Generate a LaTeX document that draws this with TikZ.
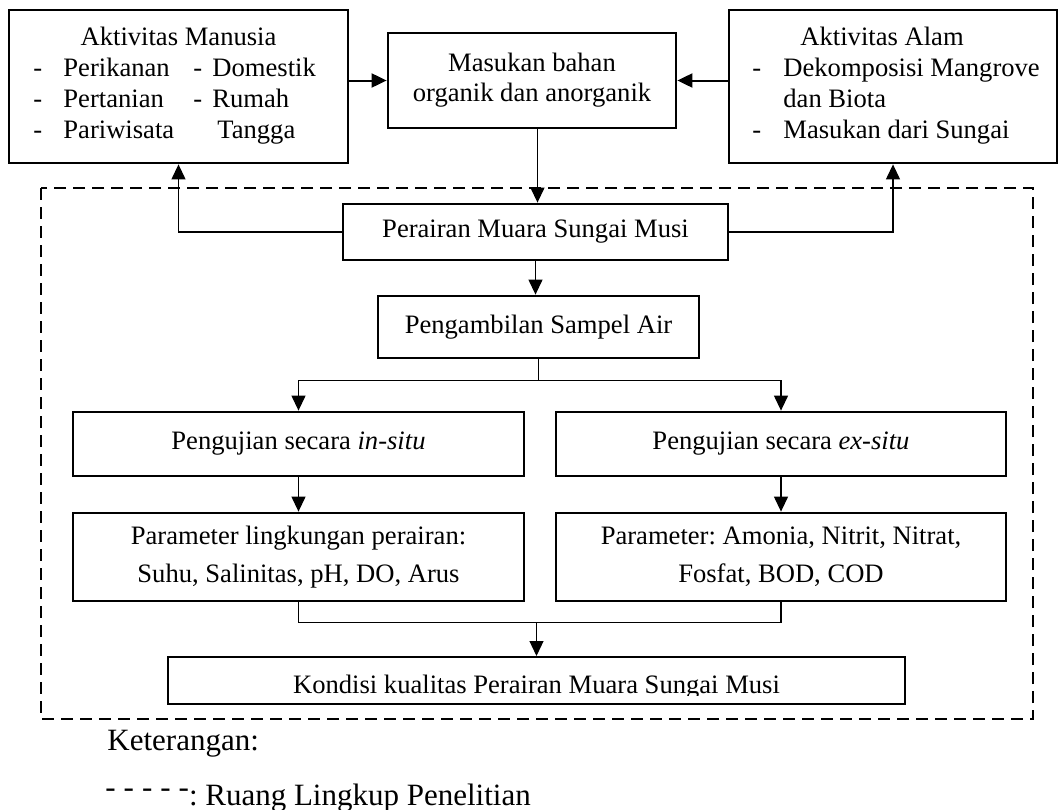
\documentclass[tikz,border=0pt]{standalone}
\usepackage{fontspec}
\setmainfont{Liberation Serif}
\usetikzlibrary{arrows.meta,calc}
\frenchspacing
\begin{document}
\begin{tikzpicture}[x=0.5pt,y=-0.5pt,
  box/.style={draw, line width=1.4pt, inner sep=0pt, align=center, font=\fontsize{13.3}{15}\selectfont},
  pbox/.style={box, font=\fontsize{13.3}{19}\selectfont},
  arr/.style={-{Triangle[length=7.5pt,width=7pt]}, line width=0.6pt},
  tarr/.style={arr, line width=1pt},
  conn/.style={line width=0.6pt},
  txt/.style={font=\fontsize{13.3}{15}\selectfont, inner sep=0pt, anchor=base west},
  ctxt/.style={txt, anchor=base},
  legtxt/.style={txt, font=\fontsize{15.5}{18}\selectfont},
  scopeframe/.style={draw, line width=1.4pt, dash pattern=on 6pt off 3.5pt}
]
\useasboundingbox (0,0) rectangle (1060,809);

% dashed scope frame
\draw[scopeframe] (41,188) rectangle (1033,719);

% top boxes
\node[box, minimum width=169.5pt, minimum height=76.5pt] (am) at (178.5,86.5) {};
\node[ctxt] (am0) at (178.5,45) {Aktivitas Manusia};
\node[txt] (am1) at (33,76) {-};
\node[txt] (am2) at (63,76) {Perikanan};
\node[txt] (am3) at (193,76) {-};
\node[txt] (am4) at (212,76) {Domestik};
\node[txt] (am5) at (33,107) {-};
\node[txt] (am6) at (63,107) {Pertanian};
\node[txt] (am7) at (193,107) {-};
\node[txt] (am8) at (212,107) {Rumah};
\node[txt] (am9) at (33,138) {-};
\node[txt] (am10) at (63,138) {Pariwisata};
\node[txt] (am11) at (217,138) {Tangga};

\node[box, minimum width=144pt, minimum height=47.5pt] (mb) at (532,80.5) {Masukan bahan\\organik dan anorganik};

\node[box, minimum width=164pt, minimum height=76.5pt] (aa) at (893,86.5) {};
\node[txt] (aa0) at (800,45) {Aktivitas Alam};
\node[txt] (aa1) at (752,76) {-};
\node[txt] (aa2) at (783,76) {Dekomposisi Mangrove};
\node[txt] (aa3) at (783,107) {dan Biota};
\node[txt] (aa4) at (752,138) {-};
\node[txt] (aa5) at (783,138) {Masukan dari Sungai};

% inner boxes
\node[box, minimum width=192.5pt, minimum height=28pt] (pm) at (535.5,232) {Perairan Muara Sungai Musi};
\node[box, minimum width=160.5pt, minimum height=31pt] (ps) at (538.5,327) {Pengambilan Sampel Air};
\node[box, minimum width=225.5pt, minimum height=32pt] (ui) at (298.5,444) {Pengujian secara \textit{in-situ}};
\node[box, minimum width=225pt, minimum height=32pt] (ue) at (781,444) {Pengujian secara \textit{ex-situ}};
\node[pbox, minimum width=225.5pt, minimum height=44pt] (pi) at (298.5,557) {Parameter lingkungan perairan:\\Suhu, Salinitas, pH, DO, Arus};
\node[pbox, minimum width=225pt, minimum height=44pt] (pe) at (781,557) {Parameter: Amonia, Nitrit, Nitrat,\\Fosfat, BOD, COD};
\node[box, line width=1pt, minimum width=368.5pt, minimum height=23.5pt] (kk) at (536.5,680.5) {};
\begin{scope}
  \clip (168,657) rectangle (905,695.5);
  \node[ctxt] (kkt) at (536.5,693) {Kondisi kualitas Perairan Muara Sungai Musi};
\end{scope}

% connectors
\draw[tarr] (am.east |- mb.west) -- (mb.west);
\draw[tarr] (aa.west |- mb.east) -- (mb.east);
\coordinate (mbs) at ($(mb.south -| pm.north)+(2,0)$);
\draw[arr] (mbs) -- (mbs |- pm.north);
\draw[arr] (pm.west) -| (am.south);
\draw[arr] (pm.east) -| (aa.south);
\draw[arr] (pm.south) -- (pm.south |- ps.north);
\coordinate (br) at ($(ps.south)+(0,21)$);
\draw[conn] (ps.south) -- (br);
\draw[arr] (br) -| (ui.north);
\draw[arr] (br) -| (ue.north);
\draw[arr] (ui.south) -- (pi.north);
\draw[arr] (ue.south) -- (pe.north);
\coordinate (mg) at ($(pi.south)+(0,20)$);
\draw[conn] (pi.south) -- (mg) -- (mg -| pe.south) -- (pe.south);
\draw[arr] (mg -| kk.north) -- (kk.north);

% legend
\node[legtxt] (ket) at (107,750) {Keterangan:};
\node[legtxt] (leg) at (105,805) {\raisebox{4pt}{-\kern4pt-\kern4pt-\kern4pt-\kern4pt-}: Ruang Lingkup Penelitian};
\end{tikzpicture}
\end{document}
